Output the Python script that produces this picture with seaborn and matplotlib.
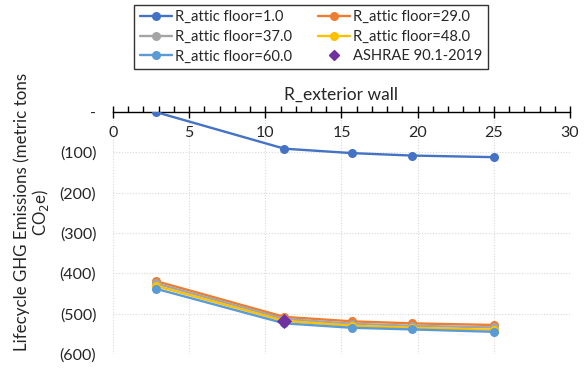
import matplotlib
matplotlib.use("Agg")
import matplotlib.pyplot as plt
from matplotlib.ticker import MultipleLocator, FuncFormatter
from matplotlib.lines import Line2D
import seaborn as sns
import pandas as pd

# R-value of the exterior wall
r_wall = [2.8, 11.25, 15.7, 19.6, 25.0]

# Lifecycle GHG emissions (metric tons CO2e) per attic-floor R-value
ghg_r1 = [0, -91, -102, -108, -112]
ghg_r29 = [-419, -508, -519, -524, -528]
ghg_r37 = [-425, -513, -525, -530, -534]
ghg_r48 = [-431, -518, -530, -535, -540]
ghg_r60 = [-438, -524, -535, -539, -545]

# ASHRAE 90.1-2019 reference case
ashrae_x = [11.25]
ashrae_y = [-518]

series_labels = ["R_attic floor=1.0", "R_attic floor=29.0", "R_attic floor=37.0",
                 "R_attic floor=48.0", "R_attic floor=60.0"]
series_values = [ghg_r1, ghg_r29, ghg_r37, ghg_r48, ghg_r60]
colors = ["#4472C4", "#ED7D31", "#A5A5A5", "#FFC000", "#5B9BD5"]

rows = []
for lab, vals in zip(series_labels, series_values):
    for x, y in zip(r_wall, vals):
        rows.append({"R_exterior wall": x, "GHG": y, "series": lab})
df = pd.DataFrame(rows)

sns.set_style("white")
plt.rcParams["font.family"] = ["Lato", "DejaVu Sans"]

fig = plt.figure(figsize=(5.84, 3.68), dpi=100)
ax = fig.add_axes([0.1935, 0.038, 0.976 - 0.1935, 0.6957 - 0.038])

sns.lineplot(data=df, x="R_exterior wall", y="GHG", hue="series",
             hue_order=series_labels, palette=colors, marker="o",
             markersize=6.5, markeredgewidth=0, linewidth=1.7, ax=ax,
             legend=False, zorder=3)
sns.scatterplot(x=ashrae_x, y=ashrae_y, marker="D", color="#7030A0", s=60,
                edgecolor="#7030A0", linewidth=0, ax=ax, zorder=5)

ax.set_xlim(0, 30)
ax.set_ylim(-600, 0)

# Grid
ax.xaxis.set_major_locator(MultipleLocator(5))
ax.xaxis.set_minor_locator(MultipleLocator(1))
ax.yaxis.set_major_locator(MultipleLocator(100))
ax.grid(True, which="major", color="#D9D9D9", linestyle=(0, (1, 1.5)), linewidth=0.8)
ax.set_axisbelow(True)

# x axis drawn along y = 0
for s in ["top", "right", "left"]:
    ax.spines[s].set_visible(False)
ax.spines["bottom"].set_position(("data", 0))
ax.spines["bottom"].set_color("black")
ax.spines["bottom"].set_linewidth(1.0)
ax.spines["bottom"].set_zorder(2)
ax.tick_params(axis="x", which="major", direction="inout", length=8, width=1.0,
               color="black", labelsize=11.5, pad=6, bottom=True)
ax.tick_params(axis="x", which="minor", direction="in", length=4, width=1.0,
               color="black", bottom=True)
ax.xaxis.set_label_position("top")
ax.set_xlabel("R_exterior wall", fontsize=12.5, labelpad=9)


def acct(v, pos):
    if abs(v) < 1e-9:
        return "-"
    return f"({abs(v):.0f})"


ax.yaxis.set_major_formatter(FuncFormatter(acct))
ax.tick_params(axis="y", length=0, labelsize=11.5, pad=12)
ax.set_ylabel("Lifecycle GHG Emissions (metric tons\nCO$_2$e)", fontsize=12.2,
              linespacing=1.05)
ax.yaxis.set_label_coords(-0.135, 0.587)

# Legend
handles = [Line2D([0], [0], color=c, marker="o", markersize=6.5, markeredgewidth=0,
                  linewidth=1.7) for c in colors]
ashrae_handle = Line2D([0], [0], color="#7030A0", marker="D", markersize=5,
                       linestyle="none")
order_h = [handles[0], handles[2], handles[4], handles[1], handles[3], ashrae_handle]
order_l = [series_labels[0], series_labels[2], series_labels[4],
           series_labels[1], series_labels[3], "ASHRAE 90.1-2019"]
leg = fig.legend(order_h, order_l, ncol=2, loc="upper center",
                 bbox_to_anchor=(0.5325, 0.986), fontsize=10.6, frameon=True,
                 fancybox=False, edgecolor="black", borderpad=0.35,
                 handlelength=2.2, columnspacing=1.75, labelspacing=0.38,
                 handletextpad=0.2, borderaxespad=0.0)
leg.get_frame().set_linewidth(1.0)

fig.savefig("out.png", dpi=100)
